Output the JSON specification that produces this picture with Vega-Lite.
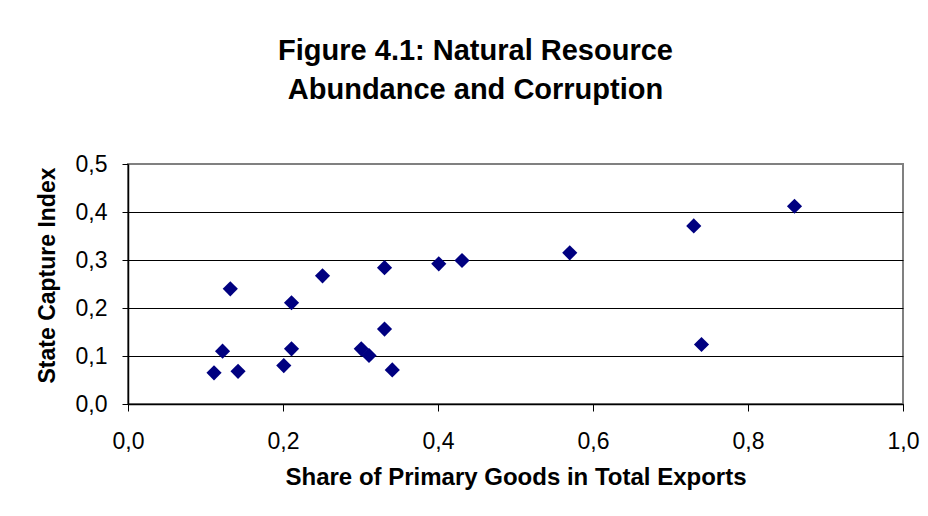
{
  "$schema": "https://vega.github.io/schema/vega-lite/v6.json",
  "autosize": {"type": "none"},
  "width": 775,
  "height": 240,
  "padding": {"left": 128, "top": 164, "right": 25, "bottom": 112},
  "background": "white",
  "title": {
    "text": ["Figure 4.1: Natural Resource", "Abundance and Corruption"],
    "anchor": "middle",
    "frame": "group",
    "dx": -40,
    "baseline": "alphabetic",
    "offset": 25,
    "lineHeight": 39,
    "font": "Liberation Sans",
    "fontSize": 29,
    "fontWeight": "bold",
    "color": "black"
  },
  "data": {
    "values": [
      {"share": 0.111, "capture": 0.065},
      {"share": 0.122, "capture": 0.110},
      {"share": 0.132, "capture": 0.240},
      {"share": 0.142, "capture": 0.068},
      {"share": 0.201, "capture": 0.080},
      {"share": 0.211, "capture": 0.211},
      {"share": 0.211, "capture": 0.115},
      {"share": 0.251, "capture": 0.267},
      {"share": 0.301, "capture": 0.115},
      {"share": 0.311, "capture": 0.101},
      {"share": 0.331, "capture": 0.284},
      {"share": 0.331, "capture": 0.156},
      {"share": 0.341, "capture": 0.071},
      {"share": 0.401, "capture": 0.292},
      {"share": 0.431, "capture": 0.299},
      {"share": 0.570, "capture": 0.315},
      {"share": 0.730, "capture": 0.371},
      {"share": 0.740, "capture": 0.124},
      {"share": 0.860, "capture": 0.412}
    ]
  },
  "mark": {"type": "point", "shape": "diamond", "filled": true, "opacity": 1, "size": 230, "color": "#000080"},
  "encoding": {
    "x": {
      "field": "share",
      "type": "quantitative",
      "scale": {"domain": [0, 1], "nice": false, "zero": true},
      "axis": {
        "title": "Share of Primary Goods in Total Exports",
        "values": [0, 0.2, 0.4, 0.6, 0.8, 1.0],
        "labelExpr": "replace(format(datum.value, '.1f'), '.', ',')",
        "grid": false,
        "domainColor": "black",
        "domainWidth": 1.5,
        "tickColor": "black",
        "tickSize": 7,
        "labelPadding": 19,
        "labelFont": "Liberation Sans",
        "labelFontSize": 23,
        "labelColor": "black",
        "labelFlush": false,
        "titleFont": "Liberation Sans",
        "titleFontSize": 24,
        "titleFontWeight": "bold",
        "titleColor": "black",
        "titlePadding": 12
      }
    },
    "y": {
      "field": "capture",
      "type": "quantitative",
      "scale": {"domain": [0, 0.5], "nice": false},
      "axis": {
        "title": "State Capture Index",
        "titleY": 111,
        "values": [0, 0.1, 0.2, 0.3, 0.4, 0.5],
        "labelExpr": "replace(format(datum.value, '.1f'), '.', ',')",
        "grid": true,
        "gridColor": {"condition": {"test": "datum.value >= 0.5", "value": "#808080"}, "value": "black"},
        "gridWidth": 1,
        "domainColor": "black",
        "domainWidth": 1.5,
        "tickColor": "black",
        "tickSize": 6,
        "labelPadding": 15,
        "labelFont": "Liberation Sans",
        "labelFontSize": 23,
        "labelColor": "black",
        "labelFlush": false,
        "titleFont": "Liberation Sans",
        "titleFontSize": 23,
        "titleFontWeight": "bold",
        "titleColor": "black",
        "titlePadding": 16
      }
    }
  },
  "config": {
    "view": {"stroke": "#808080", "strokeWidth": 2}
  }
}
